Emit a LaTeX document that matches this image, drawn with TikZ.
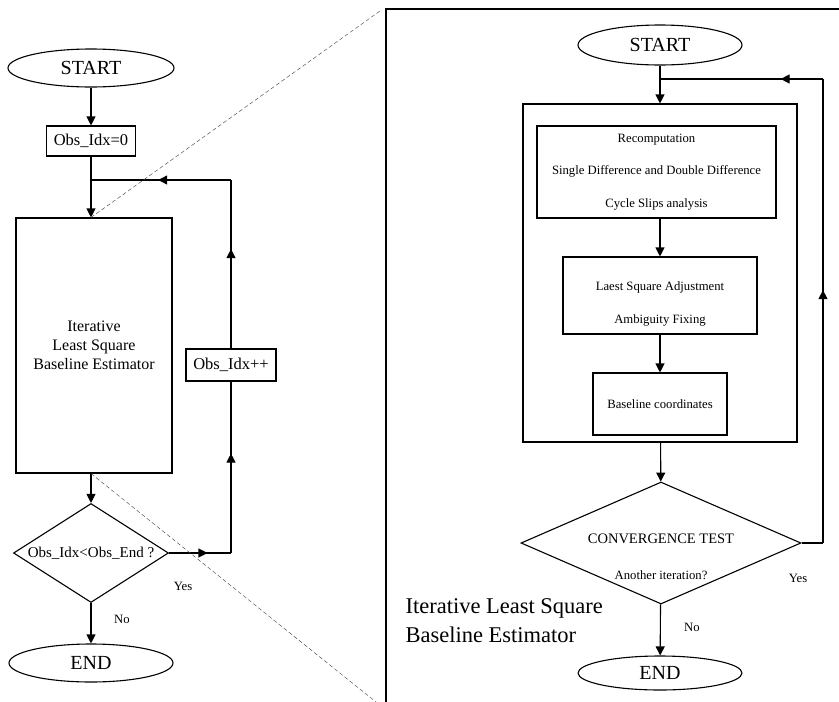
\documentclass[tikz,border=0pt]{standalone}
\usepackage{fontspec}
\setmainfont{Liberation Serif}
\usetikzlibrary{shapes.geometric,arrows.meta,decorations.markings}
\tikzset{
>={Triangle[length=9pt,width=9pt]},
->-/.style={decoration={markings, mark=at position #1 with {\arrow{>}}},postaction={decorate}},
->-/.default=.6,
LINK/.style ={draw=black,line width=1.1pt},
ZOOM/.style ={draw=black!70,line width=0.45pt,dash pattern=on 4pt off 2.5pt},
BOX/.style={draw=black,line width=1.1pt,rectangle,inner sep=0pt,align=center},
TERM/.style={draw=black,line width=1.1pt,ellipse,inner sep=0pt,font=\fontsize{20}{24}\selectfont},
TEST/.style={draw=black,line width=1.1pt,diamond,inner sep=0pt},
SMALL/.style={font=\fontsize{12.7}{32.5}\selectfont,align=center},
MID/.style={font=\fontsize{16.5}{20}\selectfont,align=center},
}

\begin{document}
\begin{tikzpicture}[x=1pt,y=-1pt]
	\useasboundingbox (0,0) rectangle (839,702);
	%left chart
	\node[TERM,minimum width=166,minimum height=38] (start1) at (91,68) {START};
	\node[BOX,MID,minimum width=89,minimum height=30] (idx0) at (91,141) {Obs\_Idx=0};
	\node[BOX,MID,minimum width=156,minimum height=255,font=\fontsize{16}{19}\selectfont] (est1) at (94,345.5) {Iterative\\Least Square\\Baseline Estimator};
	\node[BOX,MID,minimum width=90,minimum height=32] (incr) at (231,365) {Obs\_Idx++};
	\node[TEST,aspect=1.57,minimum width=155,minimum height=99,font=\fontsize{15}{18}\selectfont] (test1) at (91,553) {Obs\_Idx<Obs\_End ?};
	\node[TERM,minimum width=164,minimum height=38] (end1) at (91,663) {END};
	\node[SMALL] (yes1) at (183,586) {Yes};
	\node[SMALL] (no1) at (122,619) {No};
	\coordinate (j1) at (91,180);
	\coordinate (c1) at (231,180);
	\coordinate (c2) at (231,553);
	\draw[LINK,->] (start1) -- (idx0);
	\draw[LINK,->] (idx0) -- (idx0 |- est1.north);
	\draw[LINK,->] (test1 |- est1.south) -- (test1);
	\draw[LINK,->] (test1) -- (end1);
	\draw[LINK,->-=.62] (test1.east) -- (c2);
	\draw[LINK,->-=.58] (c2) -- (incr);
	\draw[LINK,->-=.59] (incr) -- (c1);
	\draw[LINK,->-=.52] (c1) -- (j1);
	%zoom lines
	\coordinate (zt) at (380,11);
	\coordinate (zb) at (376,702);
	\draw[ZOOM] (idx0 |- est1.north) -- (zt);
	\draw[ZOOM] (test1 |- est1.south) -- (zb);
	\draw[LINK] (386,702) -- (386,9) -- (839,9);
	%right chart
	\node[TERM,minimum width=164,minimum height=40] (start2) at (660,45) {START};
	\node[BOX,minimum width=274,minimum height=338] (outer) at (660,273) {};
	\node[BOX,SMALL,minimum width=239,minimum height=92] (rec) at (656.5,172) {Recomputation\\Single Difference and Double Difference\\Cycle Slips analysis};
	\node[BOX,minimum width=194,minimum height=77] (lsq) at (660,295.5) {};
	\node[SMALL] (lsqtxt) at ([yshift=-8.5pt]lsq.center) {Laest Square Adjustment\\Ambiguity Fixing};
	\node[BOX,SMALL,minimum width=134,minimum height=62] (base) at (660,404) {Baseline coordinates};
	\node[TEST,aspect=2.3,minimum width=280,minimum height=122] (test2) at (661,543) {};
	\node[font=\fontsize{14.5}{17}\selectfont] (conv) at ([yshift=4pt]test2.center) {CONVERGENCE TEST};
	\node[SMALL] (again) at ([yshift=-32pt]test2.center) {Another iteration?};
	\node[TERM,minimum width=164,minimum height=34] (end2) at (660,673) {END};
	\node[SMALL] (yes2) at (798,578) {Yes};
	\node[SMALL] (no2) at (692,627) {No};
	\node[font=\fontsize{22.5}{29}\selectfont,align=left,anchor=base west] (title) at (402,642) {Iterative Least Square\\Baseline Estimator};
	\coordinate (j2) at (660,79);
	\coordinate (c3) at (823,79);
	\coordinate (c4) at (823,543);
	\draw[LINK,->] (start2) -- (outer);
	\draw[LINK,->] (lsq.north |- rec.south) -- (lsq.north);
	\draw[LINK,->] (lsq) -- (base);
	\draw[LINK,->] (outer) -- (test2);
	\draw[LINK,->] (test2) -- (end2);
	\draw[LINK] (test2.east) -- (c4);
	\draw[LINK,->-=.545] (c4) -- (c3);
	\draw[LINK,->-=.26] (c3) -- (j2);
\end{tikzpicture}
\end{document}
